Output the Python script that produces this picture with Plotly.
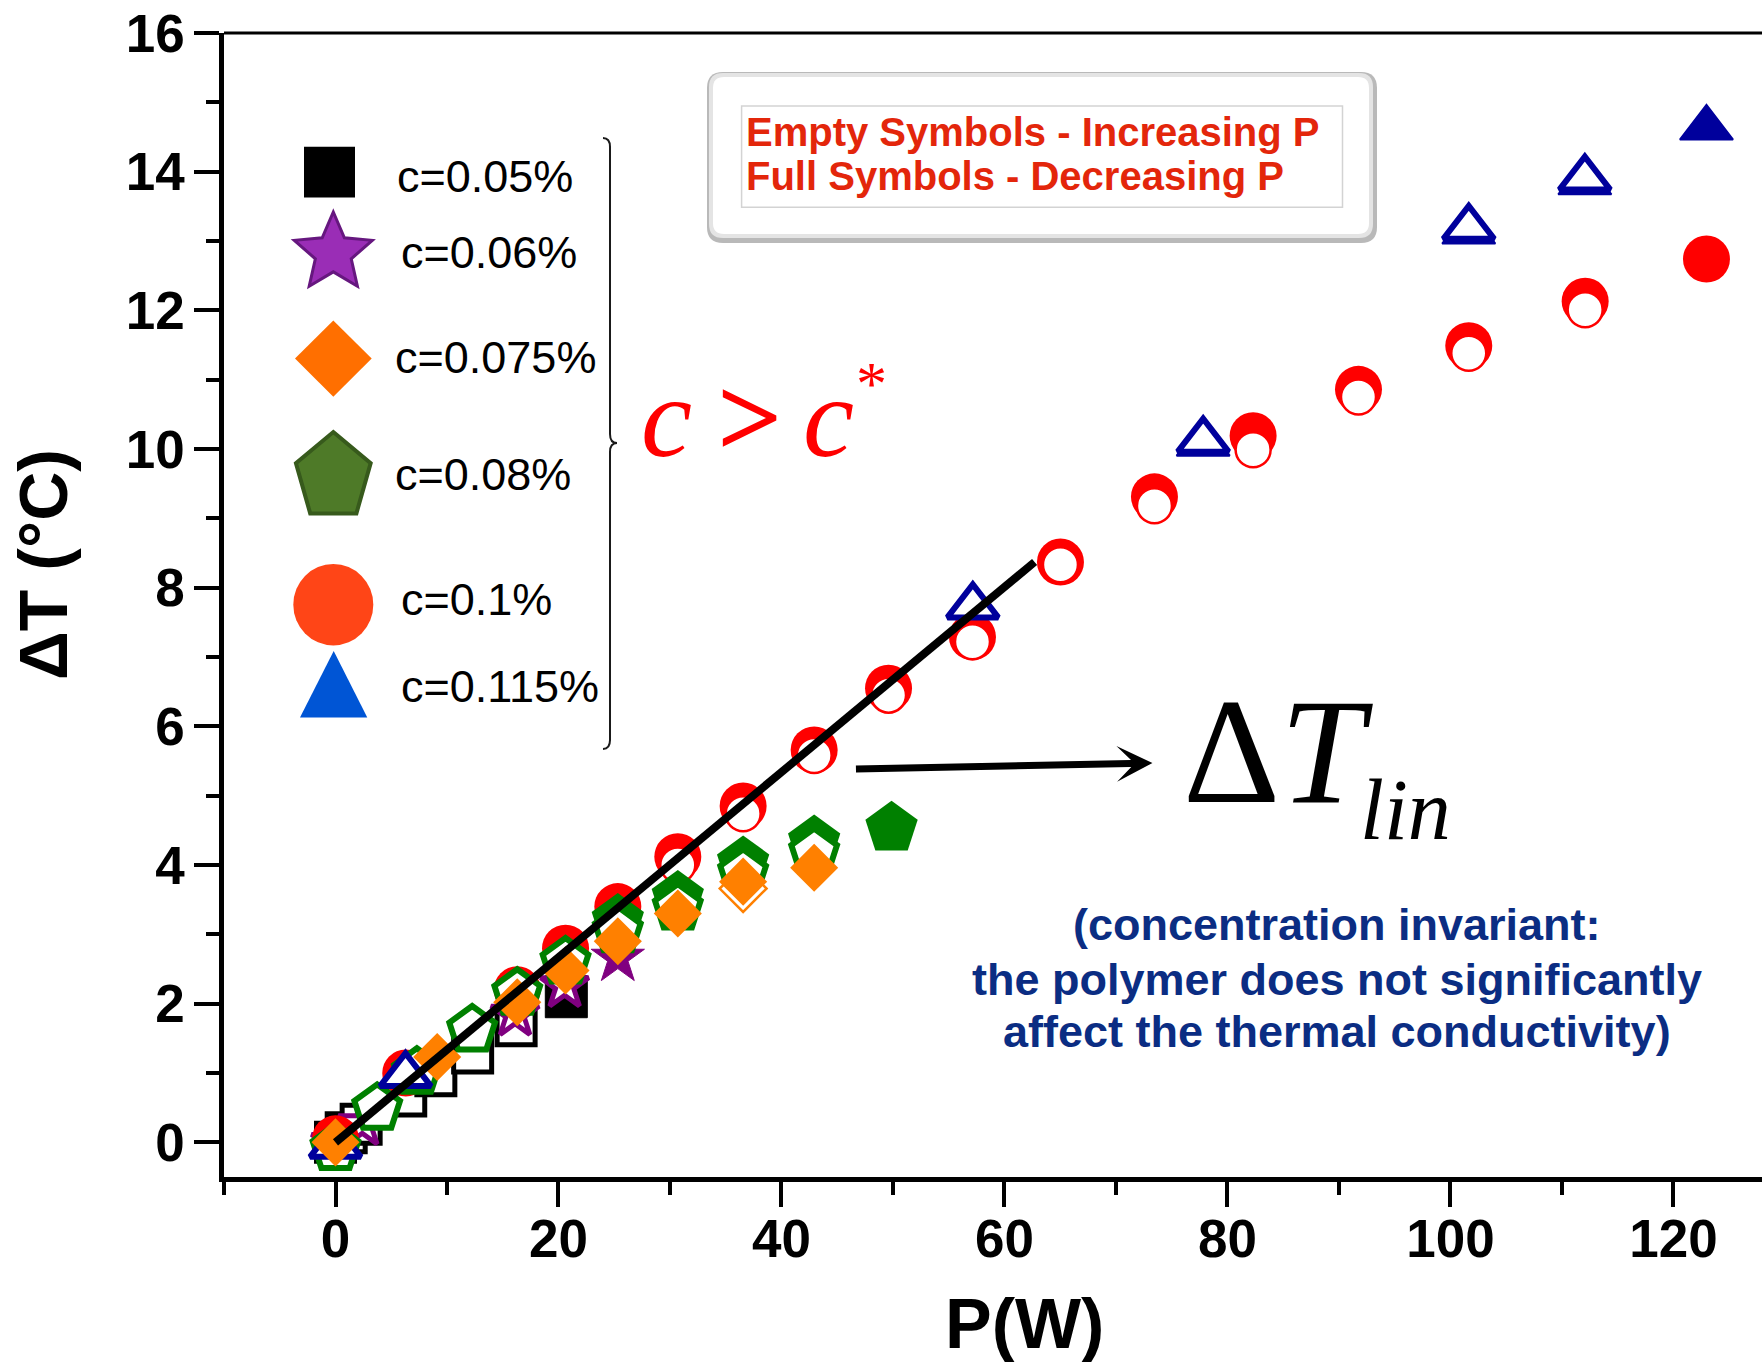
import math
import plotly.graph_objects as go

# ---- measurements: heating power P (W) vs temperature rise dT (°C) ----
# "up" = increasing P (empty symbols), "down" = decreasing P (full symbols)

# c = 0.05 %
p_005_up = [0, 0.96, 2.3, 6.3, 9.0, 12.3, 16.2]
dt_005_up = [0, 0.14, 0.26, 0.67, 0.96, 1.29, 1.68]
p_005_down = [20.7]
dt_005_down = [2.10]

# c = 0.06 %
p_006_up = [0, 2.4, 16.1, 20.55]
dt_006_up = [0, 0.27, 1.85, 2.26]
p_006_down = [25.32]
dt_006_down = [2.66]

# c = 0.075 %
p_0075_up = [36.56]
dt_0075_up = [3.66]
p_0075_down = [0, 9.12, 16.3, 20.63, 25.32, 30.7, 36.56, 42.93]
dt_0075_down = [0, 1.23, 2.02, 2.48, 2.90, 3.30, 3.76, 3.96]

# c = 0.08 %
p_008_up = [0, 3.74, 7.3, 12.26, 16.3, 20.63, 25.32, 30.7, 36.56, 42.93]
dt_008_up = [-0.09, 0.49, 1.01, 1.62, 2.15, 2.60, 3.05, 3.38, 3.88, 4.18]
p_008_down = [25.32, 30.7, 36.56, 42.93, 49.87]
dt_008_down = [3.20, 3.53, 4.03, 4.33, 4.53]

# c = 0.1 %
p_01_up = [0, 6.3, 16.3, 20.63, 25.32, 30.7, 36.56, 42.93, 49.6, 57.13,
           65.02, 73.45, 82.3, 91.75, 101.64, 112.08]
dt_01_up = [0, 0.95, 2.12, 2.70, 3.27, 4.00, 4.74, 5.58, 6.45, 7.22,
            8.33, 9.18, 9.99, 10.75, 11.38, 12.01]
p_01_down = [0, 6.3, 16.3, 20.63, 25.32, 30.7, 36.56, 42.93, 49.6, 57.13,
             65.02, 73.45, 82.3, 91.75, 101.64, 112.08, 122.96]
dt_01_down = [0.05, 1.00, 2.20, 2.80, 3.40, 4.12, 4.85, 5.66, 6.55, 7.29,
              8.37, 9.31, 10.19, 10.86, 11.49, 12.13, 12.74]

# c = 0.115 %
p_0115_up = [0, 6.28, 57.16, 77.82, 101.64, 112.05]
dt_0115_up = [-0.05, 0.97, 7.73, 10.12, 13.19, 13.90]
p_0115_down = [77.82, 101.64, 112.05, 122.96]
dt_0115_down = [10.07, 13.13, 13.84, 14.63]

# linear regime (dT_lin)
p_lin = [0, 62.7]
dt_lin = [0, 8.37]

# legend entries
legend_labels = ["c=0.05%", "c=0.06%", "c=0.075%", "c=0.08%", "c=0.1%", "c=0.115%"]

# axes
x_range = [-10, 127.94]
y_range = [-0.5, 16]

# ---- page geometry ----
W, H = 1762, 1362
ML, MR, MT, MB = 224, 0, 33, 185
PW, PH = W - ML - MR, H - MT - MB


def fx(X):
    """page pixel x -> paper x"""
    return (X - ML) / PW


def fy(Y):
    """page pixel y -> paper y"""
    return (H - MB - Y) / PH


def P(a, b):
    return f"{fx(a):.5f},{fy(b):.5f}"


def poly_path(pts):
    return "M " + " L ".join(P(a, b) for a, b in pts) + " Z"


def round_rect_path(x0, y0, x1, y1, r):
    return (f"M {P(x0 + r, y0)} L {P(x1 - r, y0)} Q {P(x1, y0)} {P(x1, y0 + r)} "
            f"L {P(x1, y1 - r)} Q {P(x1, y1)} {P(x1 - r, y1)} "
            f"L {P(x0 + r, y1)} Q {P(x0, y1)} {P(x0, y1 - r)} "
            f"L {P(x0, y0 + r)} Q {P(x0, y0)} {P(x0 + r, y0)} Z")


fig = go.Figure()


def add_pts(x, y, symbol, size, fill, line_color, line_width):
    fig.add_trace(go.Scatter(
        x=x, y=y, mode="markers", showlegend=False, hoverinfo="skip",
        marker=dict(symbol=symbol, size=size, color=fill,
                    line=dict(color=line_color, width=line_width))))


BLACK = "#000000"
PURPLE = "#800080"
ORANGE = "#ff8000"
GREEN = "#008000"
RED = "#ff0000"
BLUE = "#00009c"
WHITE = "#ffffff"

# c = 0.05 %
add_pts(p_005_up, dt_005_up, "square", 38, WHITE, BLACK, 5)
add_pts(p_005_down, dt_005_down, "square", 42, BLACK, BLACK, 1)
# c = 0.06 %
add_pts(p_006_down, dt_006_down, "star", 40, PURPLE, PURPLE, 1)
add_pts(p_006_up, dt_006_up, "star", 36, WHITE, PURPLE, 5)
# c = 0.1 %
add_pts(p_01_down, dt_01_down, "circle", 47, RED, RED, 0)
add_pts(p_01_up, dt_01_up, "circle", 35, WHITE, RED, 2.5)
# c = 0.08 %
add_pts(p_008_down, dt_008_down, "pentagon", 55, GREEN, GREEN, 0)
add_pts(p_008_up, dt_008_up, "pentagon", 48, WHITE, GREEN, 6)
# c = 0.115 %
add_pts(p_0115_down, dt_0115_down, "triangle-up", 46, BLUE, BLUE, 2)
add_pts(p_0115_up, dt_0115_up, "triangle-up", 44, WHITE, BLUE, 6)
# c = 0.075 %
add_pts(p_0075_up, dt_0075_up, "diamond", 36, WHITE, ORANGE, 2.5)
add_pts(p_0075_down, dt_0075_down, "diamond", 37, ORANGE, ORANGE, 0)

# linear fit
fig.add_trace(go.Scatter(x=p_lin, y=dt_lin, mode="lines", showlegend=False,
                         hoverinfo="skip", line=dict(color=BLACK, width=8)))

shapes = []
annotations = []

# top frame line
shapes.append(dict(type="line", xref="paper", yref="paper", x0=0, x1=1, y0=1, y1=1,
                   line=dict(color=BLACK, width=3), layer="above"))

# ---- hand-made legend ----
shapes.append(dict(type="rect", xref="paper", yref="paper",
                   x0=fx(304), x1=fx(355), y0=fy(197.5), y1=fy(146.7),
                   fillcolor="#000000", line=dict(width=0)))


def star_pts(cx, cy, rx, ry, k):
    pts = []
    for i in range(10):
        a = math.radians(-90 + 36 * i)
        f = 1.0 if i % 2 == 0 else k
        pts.append((cx + rx * f * math.cos(a), cy + ry * f * math.sin(a)))
    return pts


shapes.append(dict(type="path", xref="paper", yref="paper",
                   path=poly_path(star_pts(333.3, 253.0, 41.0, 41.0, 0.46)),
                   fillcolor="#9a2db6", line=dict(color="#66177f", width=3)))
shapes.append(dict(type="path", xref="paper", yref="paper",
                   path=poly_path([(295, 358.5), (333.3, 320.4), (371.7, 358.5), (333.3, 396.7)]),
                   fillcolor="#ff6f00", line=dict(width=0)))
pent = []
for i in range(5):
    a = math.radians(-90 + 72 * i)
    pent.append((333.3 + 39.3 * math.cos(a), 477.0 + 45.0 * math.sin(a)))
shapes.append(dict(type="path", xref="paper", yref="paper", path=poly_path(pent),
                   fillcolor="#4e7a28", line=dict(color="#375a1c", width=4)))
shapes.append(dict(type="circle", xref="paper", yref="paper",
                   x0=fx(293.3), x1=fx(373.3), y0=fy(645.4), y1=fy(564),
                   fillcolor="#ff4517", line=dict(width=0)))
shapes.append(dict(type="path", xref="paper", yref="paper",
                   path=poly_path([(300, 717.5), (367.3, 717.5), (333.7, 651)]),
                   fillcolor="#0055d5", line=dict(width=0)))

legend_pos = [(396, 176), (400, 252), (394, 358), (394, 474.6), (400, 599), (400, 686)]
for lab, (lx, ly) in zip(legend_labels, legend_pos):
    annotations.append(dict(xref="paper", yref="paper", x=fx(lx), y=fy(ly),
                            xanchor="left", yanchor="middle", showarrow=False, text=lab,
                            borderpad=0,
                            font=dict(family="Liberation Sans", size=45, color="#000000")))

# curly brace grouping the legend
brace = (f"M {P(603, 138)} Q {P(610, 138)} {P(610, 147)} L {P(610, 434)} "
         f"Q {P(610, 443)} {P(617, 443)} Q {P(610, 443)} {P(610, 452)} "
         f"L {P(610, 740)} Q {P(610, 749)} {P(603, 749)}")
shapes.append(dict(type="path", xref="paper", yref="paper", path=brace,
                   line=dict(color="#1a1a1a", width=2)))

# c > c*  (one glyph per annotation so the pieces can be spaced freely)
serif = "Liberation Serif"
for txt, x0, size, yc in [("<i>c</i>", 639.5, 115, 417.2),
                          ("<b>></b>", 716, 115, 417.2),
                          ("<i>c</i>", 801.5, 115, 417.2),
                          ("*", 855, 62, 383)]:
    annotations.append(dict(xref="paper", yref="paper", x=fx(x0), y=fy(yc),
                            xanchor="left", yanchor="middle", showarrow=False, text=txt,
                            borderpad=0, font=dict(family=serif, size=size, color=RED)))

# ---- note box ----
shapes.append(dict(type="path", xref="paper", yref="paper",
                   path=round_rect_path(707, 72, 1377, 243, 16),
                   fillcolor="#b9b9b9", line=dict(width=0), layer="above"))
shapes.append(dict(type="path", xref="paper", yref="paper",
                   path=round_rect_path(709, 73, 1373, 238, 14),
                   fillcolor="#e4e4e4", line=dict(width=0), layer="above"))
shapes.append(dict(type="path", xref="paper", yref="paper",
                   path=round_rect_path(713, 77, 1369, 234, 11),
                   fillcolor="#ffffff", line=dict(width=0), layer="above"))
shapes.append(dict(type="rect", xref="paper", yref="paper",
                   x0=fx(741.6), x1=fx(1342.5), y0=fy(207.3), y1=fy(106),
                   fillcolor="rgba(0,0,0,0)", line=dict(color="#d3d3d3", width=1.5),
                   layer="above"))
for txt, yc in [("Empty Symbols - Increasing P", 132.0), ("Full Symbols - Decreasing P", 176.0)]:
    annotations.append(dict(xref="paper", yref="paper", x=fx(745), y=fy(yc),
                            xanchor="left", yanchor="middle", showarrow=False, text=txt,
                            borderpad=0,
                            font=dict(family="Liberation Sans", size=40, color="#e3260b",
                                      weight="bold")))

# ---- dT_lin label with arrow ----
annotations.append(dict(xref="x", yref="y", x=73.27, y=5.47, ax=-298, ay=6, text="",
                        showarrow=True, arrowhead=3, arrowwidth=7, arrowsize=0.85,
                        arrowcolor=BLACK, standoff=0))
annotations.append(dict(xref="paper", yref="paper", x=fx(1182), y=fy(750.7),
                        xanchor="left", yanchor="middle", showarrow=False,
                        text="Δ<i>T</i>", borderpad=0,
                        font=dict(family=serif, size=151, color=BLACK)))
annotations.append(dict(xref="paper", yref="paper", x=fx(1359), y=fy(810),
                        xanchor="left", yanchor="middle", showarrow=False,
                        text="<i>lin</i>", borderpad=0,
                        font=dict(family=serif, size=86, color=BLACK)))

NAVY = "#0b2d83"
for txt, yc in [("(concentration invariant:", 924.4),
                ("the polymer does not significantly", 979.4),
                ("affect the thermal conductivity)", 1031.1)]:
    annotations.append(dict(xref="paper", yref="paper", x=fx(1337), y=fy(yc),
                            xanchor="center", yanchor="middle", showarrow=False, text=txt,
                            borderpad=0,
                            font=dict(family="Liberation Sans", size=45, color=NAVY,
                                      weight="bold")))

# ---- axis titles ----
annotations.append(dict(xref="paper", yref="paper", x=fx(43), y=fy(565),
                        xanchor="center", yanchor="middle", showarrow=False,
                        text="ΔT (°C)", textangle=-90, borderpad=0,
                        font=dict(family="Liberation Sans", size=68, color=BLACK,
                                  weight="bold")))
annotations.append(dict(xref="paper", yref="paper", x=fx(1024), y=fy(1324),
                        xanchor="center", yanchor="middle", showarrow=False,
                        text="P(W)", borderpad=0,
                        font=dict(family="Liberation Sans", size=70, color=BLACK,
                                  weight="bold")))

tickfont = dict(family="Liberation Sans", size=53, color=BLACK, weight="bold")
axis_common = dict(showgrid=False, zeroline=False, showline=True, linecolor=BLACK,
                   linewidth=4.5, ticks="outside", ticklen=25, tickwidth=4,
                   tickcolor=BLACK, tickfont=tickfont)

fig.update_layout(
    width=W, height=H,
    margin=dict(l=ML, r=MR, t=MT, b=MB, pad=0),
    paper_bgcolor="white", plot_bgcolor="white",
    showlegend=False,
    xaxis=dict(range=x_range, tick0=0, dtick=20, ticklabelstandoff=-13,
               minor=dict(ticks="outside", dtick=10, tick0=0, ticklen=13, tickwidth=4,
                          tickcolor=BLACK),
               **axis_common),
    yaxis=dict(range=y_range, tick0=0, dtick=2, ticklabelstandoff=-1,
               minor=dict(ticks="outside", dtick=1, tick0=0, ticklen=13, tickwidth=4,
                          tickcolor=BLACK),
               **axis_common),
    shapes=shapes,
    annotations=annotations,
)

fig.write_html("out.html", config={"displayModeBar": False})
